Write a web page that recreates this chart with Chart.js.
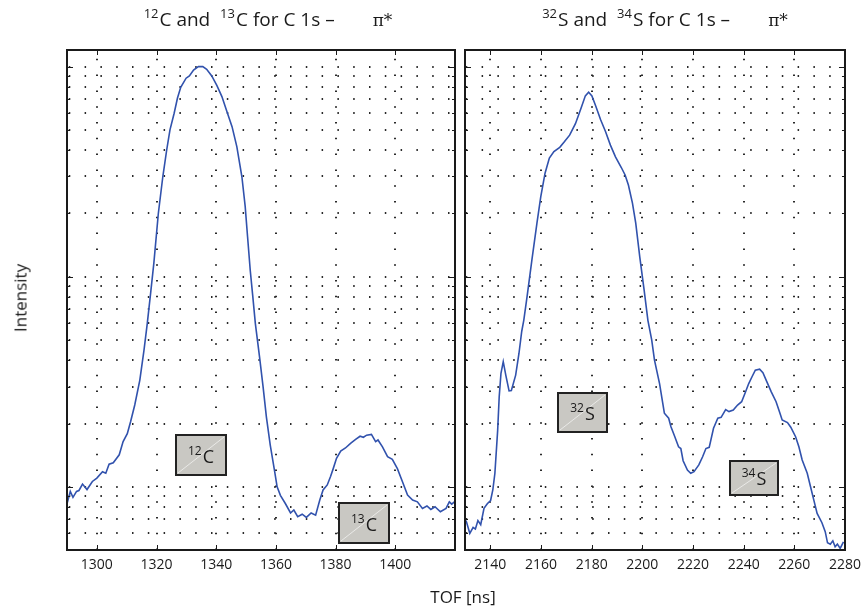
<!DOCTYPE html>
<html>
<head>
<meta charset="utf-8">
<script src="https://cdn.jsdelivr.net/npm/chart.js@4.4.1/dist/chart.umd.min.js"></script>
<style>
  body { margin: 0; background: #fff; }
  #fig { position: relative; width: 868px; height: 608px; font-family: 'Open Sans', sans-serif; color: #1a1a1a; }
  #fig canvas { position: absolute; left: 0; top: 0; }
  .ttl { position: absolute; top: 6px; width: 500px; text-align: center; font-size: 19px; white-space: nowrap; }
  .ttl sup { font-size: 13px; vertical-align: baseline; position: relative; top: -0.6em; margin-right: 1px; }
  .ttl .pi { font-family: 'DejaVu Serif', serif; font-size: 17px; margin-left: 38px; }
  .axlab { position: absolute; font-size: 17px; white-space: nowrap; }
</style>
</head>
<body>
<div id="fig">
  <canvas id="panelC" width="868" height="608"></canvas>
  <canvas id="panelS" width="868" height="608"></canvas>
  <div class="ttl" style="left:18px"><sup>12</sup>C and &nbsp;<sup>13</sup>C for C 1s –<span class="pi">π*</span></div>
  <div class="ttl" style="left:415px"><sup>32</sup>S and &nbsp;<sup>34</sup>S for C 1s –<span class="pi">π*</span></div>
  <div class="axlab" style="left:20px;top:298px;transform:translate(-50%,-50%) rotate(-90deg)">Intensity</div>
  <div class="axlab" style="left:463px;top:596px;transform:translate(-50%,-50%)">TOF [ns]</div>
</div>
<script>
'use strict';

// carbon isotopes, C 1s -> pi* (TOF in ns, intensity)
const carbonTof = [
  1290, 1291.1, 1292, 1293.2, 1294, 1295.2, 1296.7, 1298.5, 1300, 1301.9,
  1303, 1304.1, 1305.5, 1307.5, 1308.8, 1310.2, 1311.3, 1312.7, 1314.4, 1315.8,
  1316.9, 1318, 1319.1, 1320.6, 1322.1, 1323.4, 1324.5, 1325.9, 1327, 1328.1,
  1329.9, 1331, 1332.4, 1334, 1335.5, 1336.8, 1338.5, 1340.2, 1341.9, 1343.6,
  1345.3, 1346.9, 1348.6, 1349.7, 1350.5, 1351.4, 1352.2, 1353.1, 1354.5, 1355.7,
  1356.8, 1358.1, 1359.5, 1360.4, 1361.5, 1363.2, 1364.9, 1366, 1367.3, 1368.8,
  1370.2, 1371.8, 1373.3, 1374.7, 1375.8, 1377.2, 1378.3, 1379.2, 1380.3, 1381.7,
  1383.3, 1385, 1386.7, 1388.2, 1389.3, 1390.4, 1392, 1393.4, 1394.2, 1395.7,
  1397.4, 1399, 1400.7, 1402.4, 1404.1, 1405.8, 1407.4, 1409.1, 1410.6, 1411.9,
  1413.3, 1415.1, 1417, 1418.1, 1418.9, 1419.8
];
const carbonIntensity = [
  0.83, 0.95, 0.89, 0.95, 0.96, 1.03, 0.97, 1.06, 1.10, 1.18,
  1.16, 1.28, 1.30, 1.42, 1.64, 1.79, 2.04, 2.45, 3.22, 4.47,
  6.0, 8.3, 11.6, 20.0, 29.9, 40.1, 50, 60, 70.7, 79.8,
  88.1, 90.3, 96.4, 100, 100, 97.2, 90.3, 81.4, 72, 61,
  51.8, 41.6, 29.9, 21.6, 15.5, 10.7, 8.2, 6.0, 4.16, 2.99,
  2.15, 1.58, 1.20, 1.0, 0.91, 0.83, 0.75, 0.775, 0.72, 0.74,
  0.715, 0.75, 0.733, 0.864, 0.965, 1.02, 1.12, 1.22, 1.365, 1.48,
  1.53, 1.61, 1.68, 1.74, 1.72, 1.76, 1.775, 1.64, 1.67, 1.55,
  1.39, 1.35, 1.22, 1.056, 0.913, 0.864, 0.848, 0.789, 0.81, 0.78,
  0.803, 0.76, 0.789, 0.848, 0.827, 0.848
];

// sulphur isotopes
const sulphurTof = [
  2130, 2130.6, 2131.9, 2133.2, 2134.1, 2135.1, 2136.2, 2137.5, 2138.8, 2140.1,
  2141, 2141.8, 2142.9, 2143.5, 2144.2, 2145.1, 2146.1, 2147.4, 2148.3, 2150,
  2151.3, 2152.4, 2153.2, 2154.5, 2156.4, 2158.4, 2159.9, 2161.6, 2163.3, 2165.1,
  2167.4, 2169.3, 2171.3, 2173.6, 2175.8, 2177.5, 2178.8, 2180.1, 2181.6, 2183.5,
  2185.5, 2187.4, 2189.4, 2191.7, 2193.2, 2194.5, 2196.1, 2197.4, 2199, 2200.7,
  2202.2, 2203.7, 2204.8, 2206.8, 2208.7, 2210.4, 2211.3, 2212.6, 2214.3, 2215.2,
  2216.1, 2217.8, 2219.1, 2220.4, 2222.3, 2223.8, 2225.1, 2226.4, 2228.1, 2229.8,
  2231.1, 2232.9, 2234.2, 2235.9, 2237.6, 2239.2, 2240.5, 2242, 2243.3, 2244.6,
  2246.3, 2247.6, 2249.3, 2250.9, 2252.8, 2254.1, 2255.2, 2257.3, 2258.6, 2260.5,
  2261.8, 2263.1, 2265.1, 2266.4, 2267.7, 2269, 2270.9, 2272.2, 2273.1, 2274.2,
  2275.2, 2276.1, 2277, 2278.1, 2279.4
];
const sulphurIntensity = [
  0.70, 0.68, 0.60, 0.64, 0.63, 0.69, 0.66, 0.79, 0.83, 0.86,
  0.97, 1.16, 1.86, 2.68, 3.47, 3.94, 3.40, 2.86, 2.87, 3.40,
  4.31, 5.5, 6.2, 8.03, 12.0, 18.0, 24.0, 31.1, 36.7, 39.4,
  41.3, 44.0, 47.2, 53.5, 63.3, 72.6, 75.5, 72.6, 65.0, 56.0,
  49.0, 42.3, 37.2, 33.1, 30.5, 27.3, 22.4, 18.0, 12.4, 8.65,
  6.2, 5.0, 4.01, 3.10, 2.24, 2.12, 1.93, 1.76, 1.55, 1.52,
  1.33, 1.20, 1.16, 1.18, 1.27, 1.39, 1.52, 1.54, 1.90, 2.12,
  2.14, 2.33, 2.28, 2.32, 2.45, 2.54, 2.78, 3.10, 3.34, 3.59,
  3.63, 3.49, 3.13, 2.83, 2.54, 2.28, 2.08, 2.02, 1.92, 1.73,
  1.55, 1.34, 1.16, 1.0, 0.864, 0.747, 0.674, 0.611, 0.541, 0.533,
  0.553, 0.518, 0.533, 0.509, 0.547
];

const carbonTicks = [1300, 1320, 1340, 1360, 1380, 1400];
const sulphurTicks = [2140, 2160, 2180, 2200, 2220, 2240, 2260, 2280];
const intensityTicks = [0.6, 0.7, 0.8, 0.9, 1, 2, 3, 4, 5, 6, 7, 8, 9, 10,
  20, 30, 40, 50, 60, 70, 80, 90, 100];
const intensityDecades = [1, 10, 100];

// isotope tags: tof span and intensity span of each tag box
const carbonTags = [
  { mass: '12', el: 'C', tof: [1326.5, 1343.2], level: [1.14, 1.76] },
  { mass: '13', el: 'C', tof: [1381.1, 1397.9], level: [0.538, 0.834] }
];
const sulphurTags = [
  { mass: '32', el: 'S', tof: [2166.8, 2185.9], level: [1.815, 2.81] },
  { mass: '34', el: 'S', tof: [2234.5, 2253.6], level: [0.913, 1.325] }
];

const INK = '#1a1a1a';
const CURVE = '#3152ad';
const FONT = "'Open Sans', sans-serif";

function seg(ctx, x1, y1, x2, y2) {
  ctx.beginPath(); ctx.moveTo(x1, y1); ctx.lineTo(x2, y2); ctx.stroke();
}

// box, inward ticks and isotope tags
const framePlugin = {
  id: 'frame',
  afterDatasetsDraw(chart, args, opts) {
    const { ctx, chartArea: a, scales: { x, y } } = chart;
    ctx.save();
    ctx.strokeStyle = INK;
    ctx.lineWidth = 1;
    y.ticks.forEach(t => {
      const py = Math.round(y.getPixelForValue(t.value)) + 0.5;
      const len = intensityDecades.includes(t.value) ? 6 : 3;
      seg(ctx, a.left, py, a.left + len, py);
      seg(ctx, a.right, py, a.right - len, py);
    });
    x.ticks.forEach(t => {
      const px = Math.round(x.getPixelForValue(t.value)) + 0.5;
      seg(ctx, px, a.bottom, px, a.bottom - 5);
      seg(ctx, px, a.top, px, a.top + 5);
    });
    ctx.lineWidth = 2;
    ctx.strokeRect(a.left, a.top, a.right - a.left, a.bottom - a.top);

    (opts.tags || []).forEach(tag => {
      const bx = Math.round(x.getPixelForValue(tag.tof[0]));
      const bw = Math.round(x.getPixelForValue(tag.tof[1])) - bx;
      const by = Math.round(y.getPixelForValue(tag.level[1]));
      const bh = Math.round(y.getPixelForValue(tag.level[0])) - by;
      ctx.fillStyle = '#c9c8c3';
      ctx.fillRect(bx, by, bw, bh);
      ctx.strokeStyle = 'rgba(255,255,255,0.6)';
      ctx.lineWidth = 1;
      seg(ctx, bx + 2, by + bh - 2, bx + bw - 2, by + 2);
      ctx.strokeStyle = '#222';
      ctx.lineWidth = 2;
      ctx.strokeRect(bx, by, bw, bh);

      ctx.fillStyle = INK;
      ctx.textBaseline = 'alphabetic';
      ctx.font = '12px ' + FONT;
      const ws = ctx.measureText(tag.mass).width;
      ctx.font = '18px ' + FONT;
      const we = ctx.measureText(tag.el).width;
      const sx = bx + (bw - ws - we - 1) / 2;
      const base = by + bh * 0.7;
      ctx.font = '12px ' + FONT;
      ctx.fillText(tag.mass, sx, base - 8);
      ctx.font = '18px ' + FONT;
      ctx.fillText(tag.el, sx + ws + 1, base);
    });
    ctx.restore();
  }
};

function makePanel(id, tof, intensity, range, ticks, pad, tags, dotOffsets) {
  const ctx = document.getElementById(id).getContext('2d');
  const dotted = { color: '#2a2a2a', lineWidth: 2, drawTicks: false };
  return new Chart(ctx, {
    type: 'line',
    data: {
      datasets: [{
        data: tof.map((t, i) => ({ x: t, y: intensity[i] })),
        borderColor: CURVE, borderWidth: 1.6, pointRadius: 0, tension: 0, fill: false
      }]
    },
    options: {
      responsive: false, animation: false, devicePixelRatio: 1,
      layout: { padding: { left: pad[0], right: pad[1], top: 50, bottom: 0 } },
      plugins: { legend: { display: false }, tooltip: { enabled: false }, frame: { tags } },
      scales: {
        x: {
          type: 'linear', min: range[0], max: range[1],
          afterBuildTicks: s => { s.ticks = ticks.map(v => ({ value: v })); },
          afterFit: s => { s.height = 58; },
          grid: dotted,
          border: { display: false, dash: [1.5, 14.3], dashOffset: dotOffsets[0] },
          ticks: {
            padding: 7, color: INK, font: { family: FONT, size: 14 },
            maxRotation: 0, autoSkip: false, callback: v => String(v)
          }
        },
        y: {
          type: 'logarithmic', min: 0.5, max: 120,
          afterBuildTicks: s => { s.ticks = intensityTicks.map(v => ({ value: v })); },
          afterFit: s => { s.width = 0; },
          grid: dotted,
          border: { display: false, dash: [1.5, 14.3], dashOffset: dotOffsets[1] },
          ticks: { display: false }
        }
      }
    },
    plugins: [framePlugin]
  });
}

makePanel('panelC', carbonTof, carbonIntensity, [1290, 1420], carbonTicks, [67, 413], carbonTags, [7, 14]);
makePanel('panelS', sulphurTof, sulphurIntensity, [2130, 2280], sulphurTicks, [465, 16], sulphurTags, [7, 15]);
</script>
</body>
</html>
